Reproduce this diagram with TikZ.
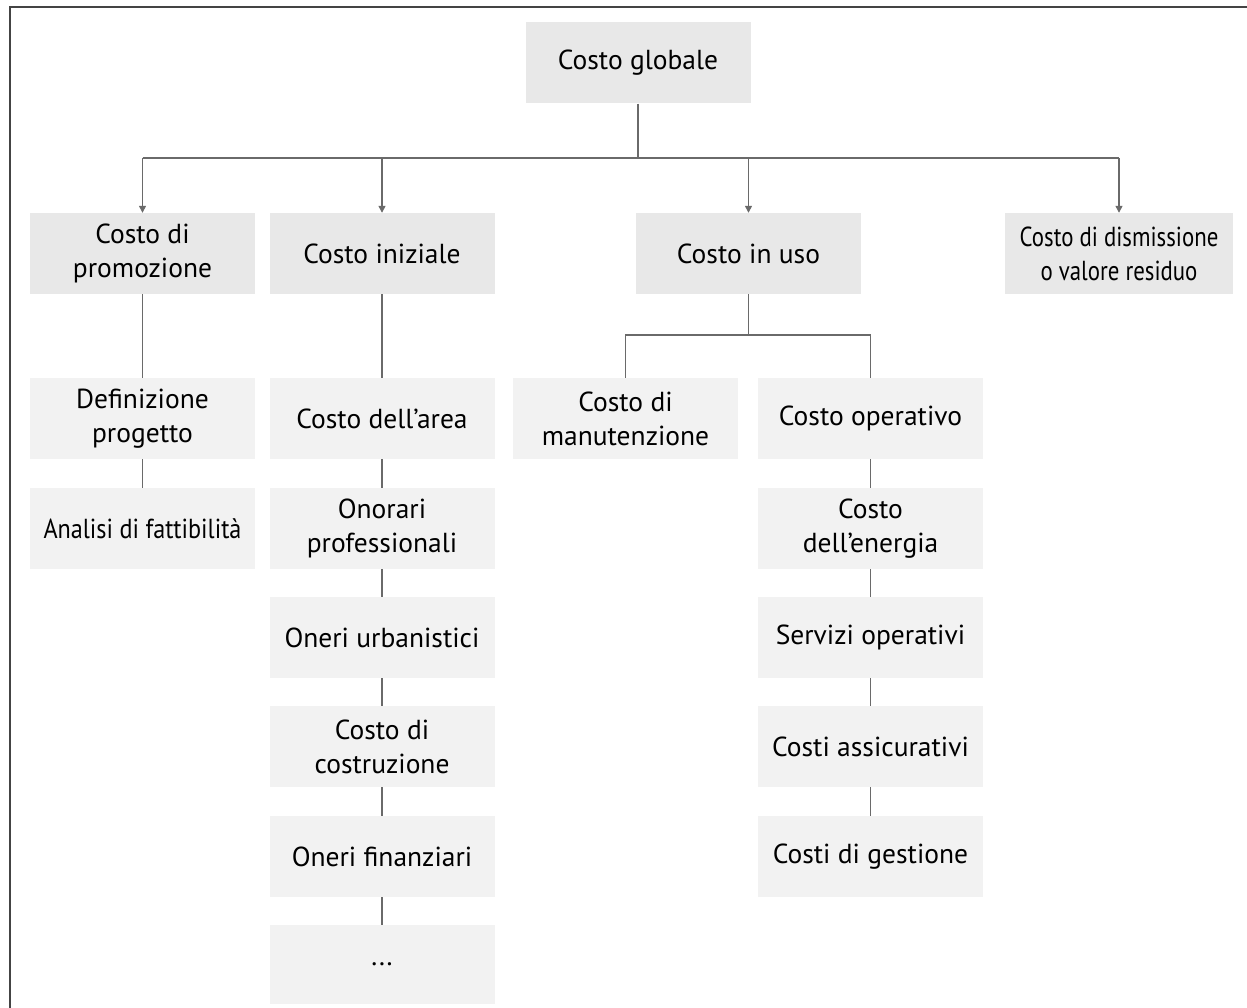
\documentclass[tikz,border=0pt]{standalone}
\usepackage{fontspec}
\setmainfont{PT Sans}
\usetikzlibrary{arrows.meta}
\definecolor{boxA}{HTML}{E8E8E8}
\definecolor{boxB}{HTML}{F2F2F2}
\definecolor{lineC}{HTML}{6A6A6A}
\definecolor{frameC}{HTML}{444444}
\newcommand{\narrowtxt}[2]{\scalebox{#1}[1]{#2}}
\begin{document}
\begin{tikzpicture}[x=1pt,y=-1pt,
  box/.style={fill=boxA, minimum width=225pt, minimum height=81pt, inner sep=0pt, align=center, font=\fontsize{27.5}{34}\selectfont},
  subbox/.style={box, fill=boxB},
  link/.style={draw=lineC, line width=1.3pt},
  arr/.style={link, -{Triangle[length=7pt,width=7pt]}}]
\useasboundingbox (0,0) rectangle (1247,1008);
% frame (top and left)
\draw[frameC, line width=2pt] (1247,7) -- (10,7) -- (10,1008);
% level 0
\node[box] (g) at (638,63) {Costo globale};
% level 1
\node[box] (p) at (142.5,253.5) {Costo di\\promozione};
\node[box] (i) at (382,253.5) {Costo iniziale};
\node[box] (u) at (748.5,253.5) {Costo in uso};
\node[box, minimum width=228pt] (d) at (1119,253.5) {\narrowtxt{0.83}{Costo di dismissione}\\\narrowtxt{0.83}{o valore residuo}};
% level 2
\node[subbox] (p1) at (142.5,418.5) {Definizione\\progetto};
\node[subbox] (p2) at (142.5,528.5) {\narrowtxt{0.88}{Analisi di fattibilità}};
\node[subbox] (i1) at (382,418.5) {Costo dell’area};
\node[subbox] (i2) at (382,528.5) {Onorari\\professionali};
\node[subbox] (i3) at (382,637.5) {Oneri urbanistici};
\node[subbox] (i4) at (382,746.5) {Costo di\\costruzione};
\node[subbox] (i5) at (382,856.5) {Oneri finanziari};
\node[subbox, minimum height=79pt] (i6) at (382,964.5) {...};
\node[subbox] (m) at (625.5,418.5) {Costo di\\manutenzione};
\node[subbox] (o) at (870.5,418.5) {Costo operativo};
\node[subbox] (o1) at (870.5,528.5) {Costo\\dell’energia};
\node[subbox] (o2) at (870.5,637.5) {Servizi operativi};
\node[subbox] (o3) at (870.5,746.5) {Costi assicurativi};
\node[subbox] (o4) at (870.5,856.5) {Costi di gestione};
% connectors
\coordinate (bus) at (638,158);
\draw[link] (g.south) -- (bus);
\draw[link] (p.north |- bus) -- (d.north |- bus);
\foreach \n in {p,i,u,d} \draw[arr] (\n.north |- bus) -- (\n.north);
\coordinate (uj) at (748.5,335);
\draw[link] (u.south) -- (uj);
\draw[link] (m.north) -- (m.north |- uj) -- (o.north |- uj) -- (o.north);
\draw[link] (p.south) -- (p1.north);
\draw[link] (p1.south) -- (p2.north);
\draw[link] (i.south) -- (i1.north);
\draw[link] (i1.south) -- (i2.north);
\draw[link] (i2.south) -- (i3.north);
\draw[link] (i3.south) -- (i4.north);
\draw[link] (i4.south) -- (i5.north);
\draw[link] (i5.south) -- (i6.north);
\draw[link] (o.south) -- (o1.north);
\draw[link] (o1.south) -- (o2.north);
\draw[link] (o2.south) -- (o3.north);
\draw[link] (o3.south) -- (o4.north);
\end{tikzpicture}
\end{document}
